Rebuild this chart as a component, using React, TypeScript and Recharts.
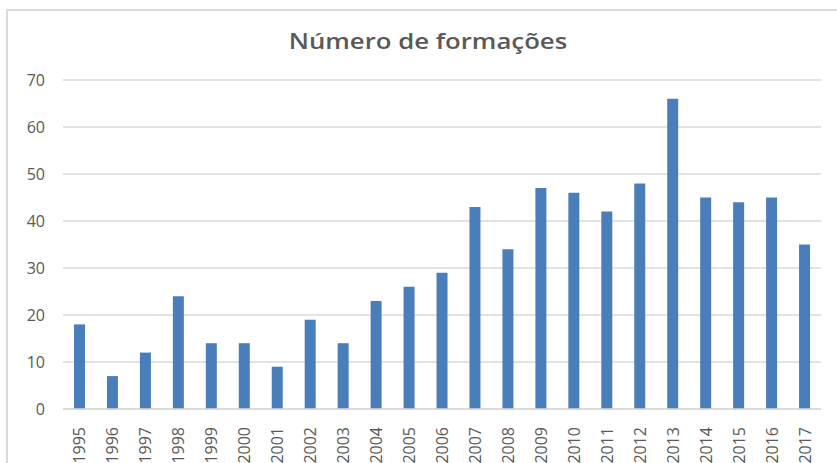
import { BarChart, Bar, XAxis, YAxis, CartesianGrid } from 'recharts'

// ── Data ─────────────────────────────────────────────────────────────────────

const years = [
  '1995', '1996', '1997', '1998', '1999', '2000', '2001', '2002', '2003', '2004', '2005', '2006',
  '2007', '2008', '2009', '2010', '2011', '2012', '2013', '2014', '2015', '2016', '2017',
]
const formacoes = [18, 7, 12, 24, 14, 14, 9, 19, 14, 23, 26, 29, 43, 34, 47, 46, 42, 48, 66, 45, 44, 45, 35]
const yTicks = [0, 10, 20, 30, 40, 50, 60, 70]

const chartData = years.map((year, i) => ({ year, value: formacoes[i] }))

const textGray = '#595959'
const font = '"Open Sans", sans-serif'

// rotated year labels under the axis
function YearTick(props: any) {
  const { x, y, payload } = props
  return (
    <text
      x={0}
      y={0}
      transform={`translate(${x + 6},${y + 10}) rotate(-90)`}
      textAnchor="end"
      fontSize={16}
      fontFamily={font}
      fill={textGray}
    >
      {payload.value}
    </text>
  )
}

export default function App() {
  return (
    <div style={{ position: 'absolute', left: 0, top: 0, width: 837, height: 463, background: '#fff', overflow: 'hidden' }}>
      {/* chart frame (only top/left edges visible in the crop) */}
      <div
        style={{
          position: 'absolute',
          left: 6,
          top: 9,
          width: 840,
          height: 470,
          borderTop: '2px solid #d9d9d9',
          borderLeft: '2px solid #d9d9d9',
        }}
      />
      <div
        style={{
          position: 'absolute',
          left: 0,
          width: 856,
          top: 25,
          textAlign: 'center',
          fontFamily: font,
          fontWeight: 600,
          fontSize: 22,
          color: textGray,
          transform: 'scaleX(1.17)',
          transformOrigin: '50% 50%',
        }}
      >
        Número de formações
      </div>
      <div style={{ position: 'absolute', left: 0, top: 0 }}>
        <BarChart
          width={837}
          height={463}
          data={chartData}
          margin={{ top: 80, right: 16, bottom: 0, left: 0 }}
          barCategoryGap="33%"
        >
          <CartesianGrid vertical={false} stroke="#d9d9d9" strokeWidth={1.5} />
          <XAxis
            dataKey="year"
            height={54}
            tick={<YearTick />}
            tickLine={false}
            axisLine={{ stroke: '#d9d9d9', strokeWidth: 1.5 }}
            interval={0}
          />
          <YAxis
            domain={[0, 70]}
            ticks={yTicks}
            width={63}
            tickSize={0}
            tickMargin={18}
            tickLine={false}
            axisLine={false}
            tick={{ fontSize: 16, fontFamily: font, fill: textGray }}
          />
          <Bar dataKey="value" fill="#4a7ebb" barSize={11} isAnimationActive={false} />
        </BarChart>
      </div>
    </div>
  )
}
